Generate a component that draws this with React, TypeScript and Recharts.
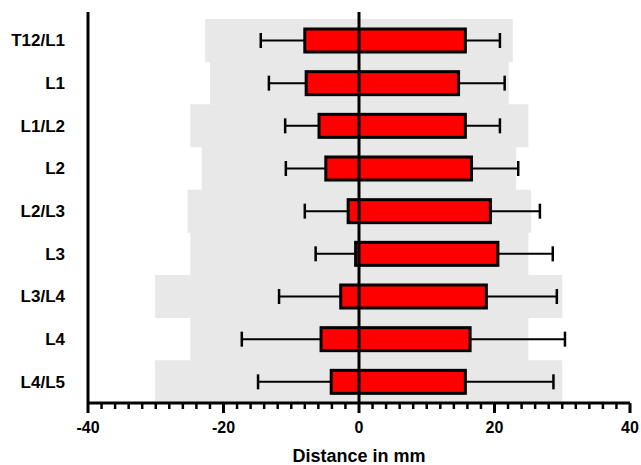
import { Bar, BarChart, ReferenceLine, XAxis, YAxis } from "recharts";

const FONT = "'Liberation Sans', Arial, sans-serif";

// Níveis vertebrais (de cima para baixo)
const levels = ["T12/L1", "L1", "L1/L2", "L2", "L2/L3", "L3", "L3/L4", "L4", "L4/L5"];
// Faixa cinza (amplitude de referência)
const grayLow = [-22.7, -22.0, -24.9, -23.2, -25.3, -24.9, -30.1, -24.9, -30.1];
const grayHigh = [22.7, 22.1, 25.0, 23.2, 25.4, 25.0, 30.0, 25.0, 30.0];
// Barra vermelha (média esquerda / direita)
const redLow = [-8.0, -7.8, -5.9, -4.9, -1.6, -0.5, -2.7, -5.6, -4.1];
const redHigh = [15.7, 14.7, 15.7, 16.6, 19.4, 20.5, 18.8, 16.4, 15.7];
// Extremos das barras de erro
const errMin = [-14.5, -13.3, -10.9, -10.8, -8.0, -6.4, -11.8, -17.3, -14.9];
const errMax = [20.8, 21.5, 20.8, 23.5, 26.7, 28.6, 29.2, 30.4, 28.7];

const majorTicks = [-40, -20, 0, 20, 40];
const MINOR_STEP = 2;
const allTicks = Array.from({ length: 80 / MINOR_STEP + 1 }, (_, i) => -40 + i * MINOR_STEP);

const data = levels.map((name, i) => ({
  name,
  gray: [grayLow[i], grayHigh[i]],
  red: [redLow[i], redHigh[i]],
  errMin: errMin[i],
  errMax: errMax[i],
}));

/** Barra vermelha com bigodes desenhados a partir da escala da própria barra. */
function RedBar(props: any) {
  const { x, y, width, height, payload } = props;
  const [lo, hi] = payload.red;
  const ppu = width / (hi - lo);
  const cy = y + height / 2;
  const left = x + (payload.errMin - lo) * ppu;
  const right = x + width + (payload.errMax - hi) * ppu;
  return (
    <g>
      <line x1={left} x2={x} y1={cy} y2={cy} stroke="#000" strokeWidth={2} />
      <line x1={left} x2={left} y1={cy - 7.5} y2={cy + 7.5} stroke="#000" strokeWidth={2.5} />
      <line x1={x + width} x2={right} y1={cy} y2={cy} stroke="#000" strokeWidth={2} />
      <line x1={right} x2={right} y1={cy - 7.5} y2={cy + 7.5} stroke="#000" strokeWidth={2.5} />
      <rect x={x} y={y} width={width} height={height} fill="#ff0000" stroke="#000" strokeWidth={3} />
    </g>
  );
}

function XTick({ x, y, payload }: any) {
  const major = majorTicks.includes(payload.value);
  return (
    <g>
      <line x1={x} x2={x} y1={y} y2={y + (major ? 10 : 6)} stroke="#000" strokeWidth={major ? 3 : 2.5} />
      {major && (
        <text x={x} y={y + 30} textAnchor="middle" fontSize={16} fontWeight={700} fontFamily={FONT} fill="#000">
          {payload.value}
        </text>
      )}
    </g>
  );
}

export default function App() {
  return (
    <div style={{ position: "absolute", left: 0, top: 0, background: "#fff" }}>
      <BarChart
        width={641}
        height={465}
        data={data}
        layout="vertical"
        barCategoryGap={0}
        margin={{ top: 12, right: 11, bottom: 0, left: 0 }}
      >
        <XAxis
          type="number"
          domain={[-40, 40]}
          ticks={allTicks}
          interval={0}
          height={62}
          tickSize={0}
          tickMargin={0}
          tickLine={false}
          tick={<XTick />}
          axisLine={{ stroke: "#000", strokeWidth: 3 }}
          label={{
            value: "Distance in mm",
            position: "insideBottom",
            offset: 3,
            fontSize: 18,
            fontWeight: 700,
            fontFamily: FONT,
            fill: "#000",
          }}
        />
        <YAxis
          type="category"
          dataKey="name"
          width={88}
          padding={{ top: 7, bottom: 0 }}
          tickLine={false}
          tickSize={0}
          tickMargin={23}
          axisLine={{ stroke: "#000", strokeWidth: 3 }}
          tick={{ fill: "#000", fontSize: 17, fontWeight: 700, fontFamily: FONT }}
        />
        <YAxis yAxisId="bg" type="category" dataKey="name" hide padding={{ top: 7, bottom: 0 }} />
        <Bar yAxisId="bg" dataKey="gray" fill="#e8e8e8" isAnimationActive={false} />
        <Bar dataKey="red" barSize={23} shape={<RedBar />} isAnimationActive={false} />
        <ReferenceLine x={0} stroke="#000" strokeWidth={3} />
      </BarChart>
    </div>
  );
}
